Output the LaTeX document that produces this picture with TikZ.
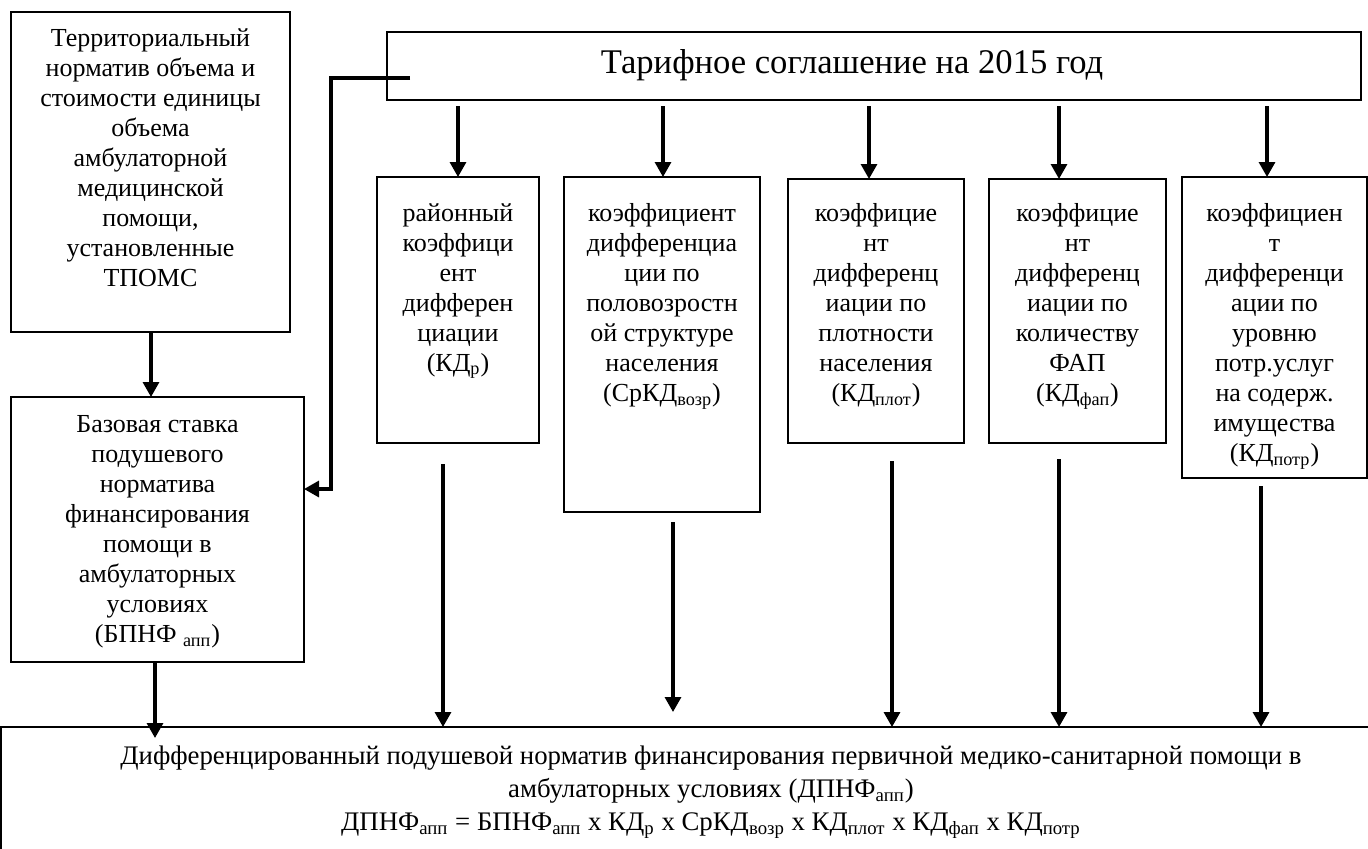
\documentclass[tikz,border=0pt]{standalone}
\usepackage{fontspec}
\setmainfont{Liberation Serif}
\usetikzlibrary{arrows.meta,calc}
\newcommand\sbx[1]{\textsubscript{#1}}
\newcommand\pbox[5]{\node[box, minimum width={(#4-#2)*0.5pt}, minimum height={(#5-#3)*0.5pt}] (#1) at ({(#2+#4)/2},{(#3+#5)/2}) {};}
\begin{document}
\begin{tikzpicture}[x=0.5pt,y=-0.5pt,
  box/.style={draw, line width=0.8pt, inner sep=0pt, outer sep=0pt},
  txt/.style={align=center, inner sep=0pt, font=\fontsize{13}{15}\selectfont},
  arr/.style={line width=1.6pt, -{Triangle[length=7.5pt,width=8pt]}},
]
\useasboundingbox (0,0) rectangle (1368,848);
% boxes
\pbox{A}{11}{12}{290}{332}
\pbox{B}{11}{397}{304}{662}
\pbox{T}{387}{32}{1361}{100}
\pbox{K1}{377}{177}{539}{443}
\pbox{K2}{564}{177}{760}{512}
\pbox{K3}{788}{179}{964}{443}
\pbox{K4}{989}{179}{1166}{443}
\pbox{K5}{1182}{177}{1367}{478}
\pbox{D}{1}{727}{1421}{870}
% texts
\node[font=\fontsize{17.3}{20}\selectfont, inner sep=0pt] (Tt) at ($(T.center)+(-22,-1)$) {Тарифное соглашение на 2015 год};
\node[txt, anchor=north] (At) at ($(A.north)+(0,16)$) {Территориальный\\норматив объема и\\стоимости единицы\\объема\\амбулаторной\\медицинской\\помощи,\\установленные\\ТПОМС};
\node[txt, anchor=north] (Bt) at ($(B.north)+(0,18)$) {Базовая ставка\\подушевого\\норматива\\финансирования\\помощи в\\амбулаторных\\условиях\\(БПНФ \sbx{апп})};
\node[txt, anchor=north] (K1t) at ($(K1.north)+(0,26)$) {районный\\коэффици\\ент\\дифферен\\циации\\(КД\sbx{р})};
\node[txt, anchor=north] (K2t) at ($(K2.north)+(0,26)$) {коэффициент\\дифференциа\\ции по\\половозростн\\ой структуре\\населения\\(СрКД\sbx{возр})};
\node[txt, anchor=north] (K3t) at ($(K3.north)+(0,24)$) {коэффицие\\нт\\дифференц\\иации по\\плотности\\населения\\(КД\sbx{плот})};
\node[txt, anchor=north] (K4t) at ($(K4.north)+(0,24)$) {коэффицие\\нт\\дифференц\\иации по\\количеству\\ФАП\\(КД\sbx{фап})};
\node[txt, anchor=north] (K5t) at ($(K5.north)+(0,26)$) {коэффициен\\т\\дифференци\\ации по\\уровню\\потр.услуг\\на содерж.\\имущества\\(КД\sbx{потр})};
\node[txt, anchor=north, font=\fontsize{13.4}{16.5}\selectfont] (Dt) at ($(D.north -| 711,0)+(0,18)$) {Дифференцированный подушевой норматив финансирования первичной медико-санитарной помощи в\\амбулаторных условиях (ДПНФ\sbx{апп})\\ДПНФ\sbx{апп} = БПНФ\sbx{апп} х КД\sbx{р} х СрКД\sbx{возр} х КД\sbx{плот} х КД\sbx{фап} х КД\sbx{потр}};
% connectors
\draw[arr] ($(A.south)+(0.5,0)$) -- ($(B.north -| A.south)+(0.5,0)$);
\coordinate (tb) at ($(T.west)+(23,12)$);
\coordinate (be) at ($(B.east)+(0,-40.5)$);
\draw[arr] (tb) -- ++(-79,0) |- (be);
\draw[arr] ($(K1.north |- T.south)+(0,6)$) -- (K1.north);
\draw[arr] ($(K2.north |- T.south)+(1,6)$) -- ($(K2.north)+(1,0)$);
\draw[arr] ($(K3.north |- T.south)+(-7,6)$) -- ($(K3.north)+(-7,0)$);
\draw[arr] ($(K4.north |- T.south)+(-18.5,6)$) -- ($(K4.north)+(-18.5,0)$);
\draw[arr] ($(K5.north |- T.south)+(-7.5,6)$) -- ($(K5.north)+(-7.5,0)$);
\draw[arr] ($(B.south)+(-2.5,0)$) -- ($(B.south |- D.north)+(-2.5,11)$);
\draw[arr] ($(K1.south)+(-15,21)$) -- ($(K1.south |- D.north)+(-15,0)$);
\draw[arr] ($(K2.south)+(11,10)$) -- ($(K2.south |- D.north)+(11,-15)$);
\draw[arr] ($(K3.south)+(16,18)$) -- ($(K3.south |- D.north)+(16,0)$);
\draw[arr] ($(K4.south)+(-18.5,16)$) -- ($(K4.south |- D.north)+(-18.5,0)$);
\draw[arr] ($(K5.south)+(-13.5,8)$) -- ($(K5.south |- D.north)+(-13.5,0)$);
\end{tikzpicture}
\end{document}
